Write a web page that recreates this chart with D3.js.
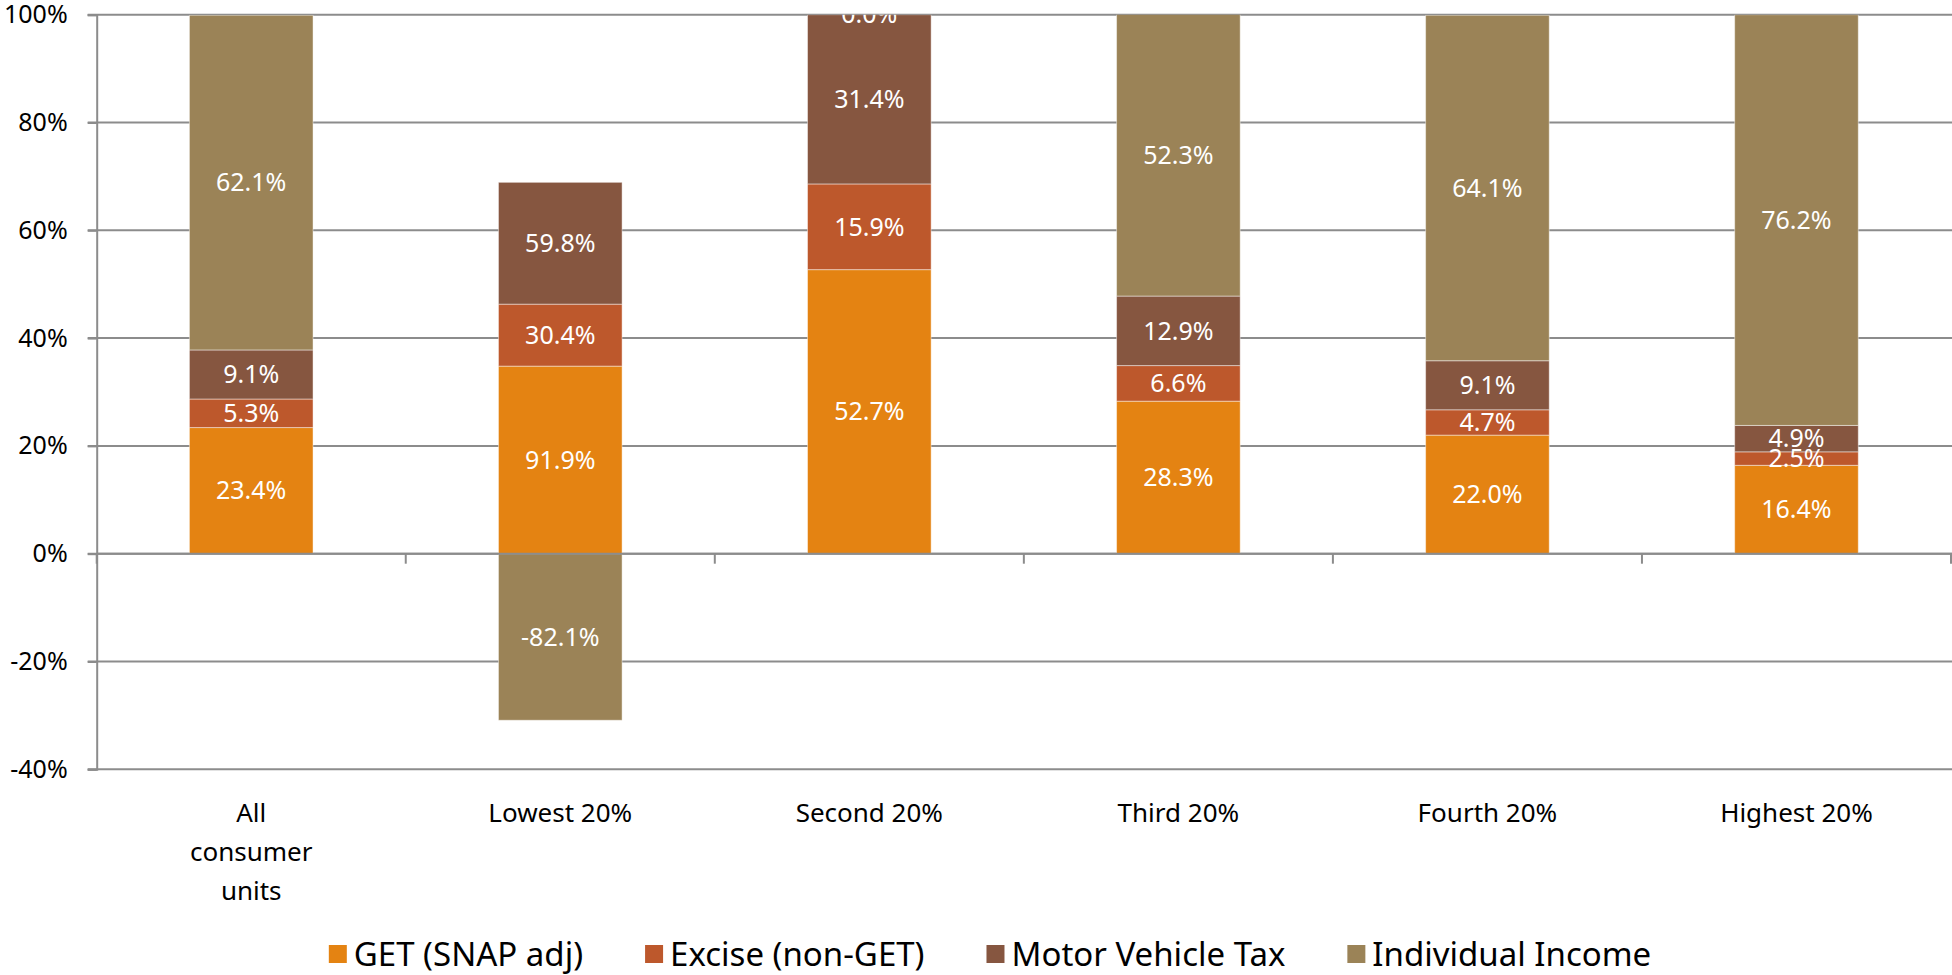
<!DOCTYPE html>
<html>
<head>
<meta charset="utf-8">
<script src="https://cdn.jsdelivr.net/npm/d3@7"></script>
<style>
  body { margin: 0; background: #fff; }
  text { font-family: "Noto Sans", "Open Sans", sans-serif; }
</style>
</head>
<body>
<svg id="canvas"></svg>
<script>
// Data
let categories = ["All consumer units", "Lowest 20%", "Second 20%", "Third 20%", "Fourth 20%", "Highest 20%"];
let seriesNames = ["GET (SNAP adj)", "Excise (non-GET)", "Motor Vehicle Tax", "Individual Income"];

// bar heights as drawn on the chart (percent of axis)
let getValues = [23.4, 34.8, 52.7, 28.3, 22.0, 16.4];
let exciseValues = [5.3, 11.5, 15.9, 6.6, 4.7, 2.5];
let motorValues = [9.1, 22.6, 31.4, 12.9, 9.1, 4.9];
let incomeValues = [62.1, -30.9, 0.0, 52.3, 64.1, 76.2];

// data labels as printed on the bars
let getLabels = ["23.4%", "91.9%", "52.7%", "28.3%", "22.0%", "16.4%"];
let exciseLabels = ["5.3%", "30.4%", "15.9%", "6.6%", "4.7%", "2.5%"];
let motorLabels = ["9.1%", "59.8%", "31.4%", "12.9%", "9.1%", "4.9%"];
let incomeLabels = ["62.1%", "-82.1%", "0.0%", "52.3%", "64.1%", "76.2%"];

let yTicks = [-40, -20, 0, 20, 40, 60, 80, 100];
let colors = ["#e48312", "#bd582c", "#865640", "#9b8357"];

let width = 1952;
let height = 975;
let plotLeft = 96.7;
let plotRight = 1951;
let plotTop = 14.7;
let plotBottom = 769.3;

let canvas = d3.select("#canvas").attr("width", width).attr("height", height);

let seriesValues = [getValues, exciseValues, motorValues, incomeValues];
let seriesLabels = [getLabels, exciseLabels, motorLabels, incomeLabels];

let rows = categories.map((c, i) => {
  let row = { category: c };
  seriesNames.forEach((s, j) => { row[s] = seriesValues[j][i]; });
  return row;
});

let stacked = d3.stack()
  .keys(seriesNames)
  .offset(d3.stackOffsetDiverging)(rows);

// zero-height segments sit on top of the positive stack (like Excel)
stacked.forEach((layer, i) => {
  layer.forEach((d, k) => {
    if (d[1] - d[0] === 0 && i > 0) {
      let top = d3.max(stacked.slice(0, i), (l) => Math.max(l[k][0], l[k][1]));
      d[0] = top;
      d[1] = top;
    }
  });
});

// Scales
let xScale = d3.scaleBand()
  .domain(categories)
  .range([plotLeft, plotRight])
  .paddingInner(0.6)
  .paddingOuter(0.3);

let yScale = d3.scaleLinear()
  .domain([-40, 100])
  .range([plotBottom, plotTop]);

// Gridlines
canvas.append("g")
  .selectAll("line")
  .data(yTicks)
  .enter()
  .append("line")
  .attr("x1", plotLeft - 9)
  .attr("x2", width)
  .attr("y1", (d) => yScale(d))
  .attr("y2", (d) => yScale(d))
  .attr("stroke", "#8c8c8c")
  .attr("stroke-width", 2);

// Y axis
let yAxis = d3.axisLeft(yScale)
  .tickValues(yTicks)
  .tickSize(9)
  .tickPadding(20)
  .tickFormat((d) => d + "%");

let yAxisG = canvas.append("g")
  .attr("id", "y-axis")
  .attr("transform", "translate(" + plotLeft + ",0)")
  .call(yAxis);
yAxisG.select(".domain").attr("stroke", "#8c8c8c").attr("stroke-width", 2);
yAxisG.selectAll(".tick line").attr("stroke", "#8c8c8c").attr("stroke-width", 2);
yAxisG.selectAll(".tick text")
  .attr("fill", "#000")
  .style("font-size", "25px")
  .style("font-family", "'Noto Sans', sans-serif");

// Clip for the plot area
canvas.append("clipPath")
  .attr("id", "plot-clip")
  .append("rect")
  .attr("x", plotLeft)
  .attr("y", plotTop)
  .attr("width", plotRight - plotLeft)
  .attr("height", plotBottom - plotTop);

// Bars
let plot = canvas.append("g").attr("clip-path", "url(#plot-clip)");

let layers = plot.selectAll("g.layer")
  .data(stacked)
  .enter()
  .append("g")
  .attr("class", "layer")
  .attr("fill", (d, i) => colors[i]);

layers.selectAll("rect")
  .data((d) => d.filter((s) => s[1] !== s[0]))
  .enter()
  .append("rect")
  .attr("x", (d) => xScale(d.data.category))
  .attr("width", xScale.bandwidth())
  .attr("y", (d) => yScale(Math.max(d[0], d[1])))
  .attr("height", (d) => Math.abs(yScale(d[0]) - yScale(d[1])))
  .attr("stroke", "rgba(255,255,255,0.45)")
  .attr("stroke-width", 1);

// Zero line
canvas.append("line")
  .attr("x1", plotLeft)
  .attr("x2", width)
  .attr("y1", yScale(0))
  .attr("y2", yScale(0))
  .attr("stroke", "#8c8c8c")
  .attr("stroke-width", 2);

// Category ticks at band boundaries
let bandStep = (plotRight - plotLeft) / categories.length;
let boundaries = d3.range(categories.length + 1).map((i) => plotLeft + i * bandStep);
canvas.append("g")
  .selectAll("line")
  .data(boundaries)
  .enter()
  .append("line")
  .attr("x1", (d) => d)
  .attr("x2", (d) => d)
  .attr("y1", yScale(0))
  .attr("y2", yScale(0) + 10)
  .attr("stroke", "#8c8c8c")
  .attr("stroke-width", 2);

// Data labels
let labelG = plot.append("g");
stacked.forEach((layer, i) => {
  labelG.selectAll(null)
    .data(layer)
    .enter()
    .append("text")
    .attr("x", (d) => xScale(d.data.category) + xScale.bandwidth() / 2)
    .attr("y", (d) => yScale((d[0] + d[1]) / 2))
    .attr("dy", "0.35em")
    .attr("text-anchor", "middle")
    .attr("fill", "#fff")
    .style("font-size", "25px")
    .text((d, k) => seriesLabels[i][k]);
});

// Category labels
let catWraps = { "All consumer units": ["All", "consumer", "units"] };
let catG = canvas.append("g");
categories.forEach((c) => {
  let lines = catWraps[c] || [c];
  let t = catG.append("text")
    .attr("x", xScale(c) + xScale.bandwidth() / 2)
    .attr("y", 822)
    .attr("text-anchor", "middle")
    .attr("fill", "#000")
    .style("font-size", "26px");
  lines.forEach((l, i) => {
    t.append("tspan")
      .attr("x", xScale(c) + xScale.bandwidth() / 2)
      .attr("dy", i === 0 ? 0 : 39)
      .text(l);
  });
});

// Legend
let legend = canvas.append("g");
let lx = 0;
let legendY = 954;
seriesNames.forEach((s, i) => {
  let item = legend.append("g").attr("transform", "translate(" + lx + ",0)");
  item.append("rect")
    .attr("x", 0)
    .attr("y", legendY - 9)
    .attr("width", 18)
    .attr("height", 18)
    .attr("fill", colors[i]);
  let t = item.append("text")
    .attr("x", 25)
    .attr("y", legendY)
    .attr("dy", "0.35em")
    .attr("fill", "#000")
    .style("font-size", "33px")
    .text(s);
  lx += 25 + t.node().getComputedTextLength() + 62;
});
let legendWidth = lx - 62;
legend.attr("transform", "translate(" + (990 - legendWidth / 2) + ",0)");
</script>
</body>
</html>
